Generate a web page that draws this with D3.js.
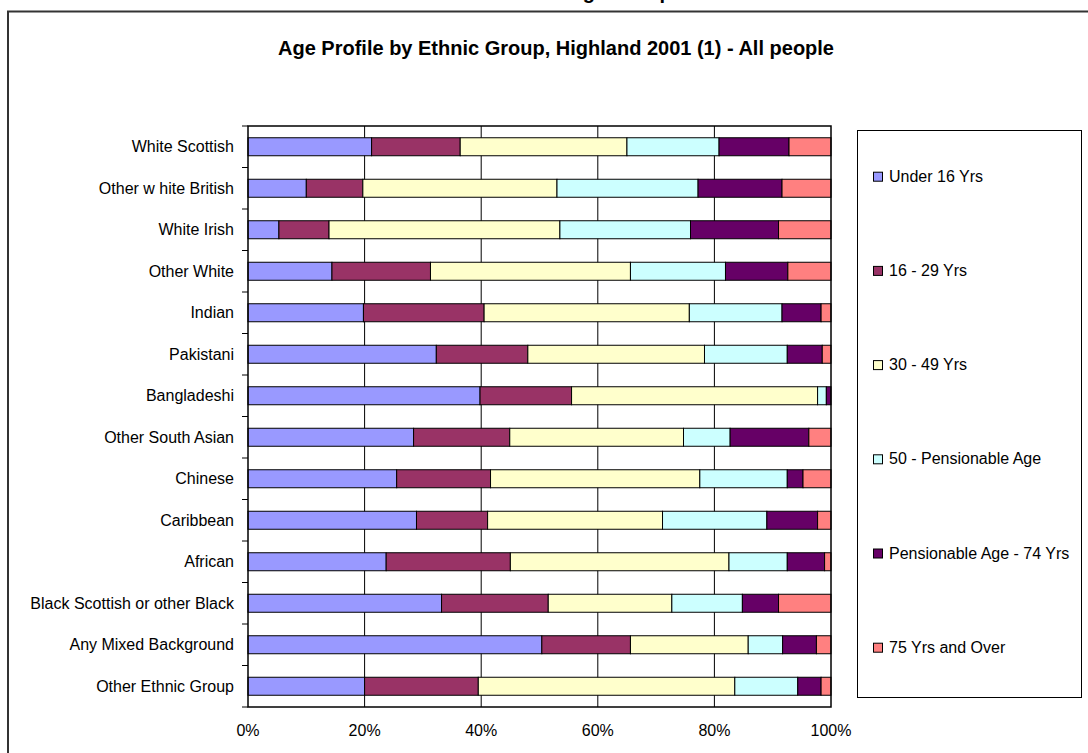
<!DOCTYPE html>
<html>
<head>
<meta charset="utf-8">
<script src="https://cdn.jsdelivr.net/npm/d3@7/dist/d3.min.js"></script>
<style>
  body { margin: 0; background: #fff; }
  svg { display: block; }
</style>
</head>
<body>
<div id="graph"></div>
<script>
'use strict';

// categories, top to bottom
var groups = ['White Scottish', 'Other w hite British', 'White Irish', 'Other White', 'Indian',
  'Pakistani', 'Bangladeshi', 'Other South Asian', 'Chinese', 'Caribbean', 'African',
  'Black Scottish or other Black', 'Any Mixed Background', 'Other Ethnic Group'];

var ageBands = ['Under 16 Yrs', '16 - 29 Yrs', '30 - 49 Yrs', '50 - Pensionable Age',
  'Pensionable Age - 74 Yrs', '75 Yrs and Over'];

// percentage of each group, one array per age band
var under16 = [21.2, 10.0, 5.3, 14.4, 19.8, 32.3, 39.8, 28.4, 25.5, 28.9, 23.7, 33.2, 50.4, 20.0];
var age16to29 = [15.2, 9.7, 8.6, 16.9, 20.7, 15.7, 15.7, 16.5, 16.1, 12.2, 21.3, 18.3, 15.2, 19.5];
var age30to49 = [28.6, 33.3, 39.6, 34.3, 35.2, 30.3, 42.2, 29.8, 35.9, 30.0, 37.5, 21.2, 20.2, 44.0];
var age50toPens = [15.8, 24.2, 22.4, 16.3, 15.9, 14.2, 1.5, 8.0, 15.0, 17.9, 10.0, 12.1, 5.9, 10.8];
var pensTo74 = [12.0, 14.4, 15.1, 10.7, 6.7, 6.0, 0.8, 13.5, 2.7, 8.7, 6.4, 6.2, 5.8, 4.0];
var over75 = [7.2, 8.4, 9.0, 7.4, 1.7, 1.5, 0.0, 3.8, 4.8, 2.3, 1.1, 9.0, 2.5, 1.7];

var xTicks = [0, 20, 40, 60, 80, 100];
var colors = ['#9999ff', '#993366', '#ffffcc', '#ccffff', '#660066', '#ff8080'];

var series = [under16, age16to29, age30to49, age50toPens, pensTo74, over75];

// build rows for d3.stack
var rows = groups.map(function(g, i) {
  var row = { group: g };
  ageBands.forEach(function(b, j) { row[b] = series[j][i]; });
  return row;
});

var canvasWidth = 1088;
var canvasHeight = 753;
var plot = { left: 248, right: 831, top: 126, bottom: 707 };

var svg = d3.select('#graph')
  .append('svg')
  .attr('width', canvasWidth)
  .attr('height', canvasHeight)
  .attr('font-family', '"Liberation Sans", Arial, sans-serif');

// outer frame of the chart object (runs off the page right and bottom)
svg.append('rect')
  .attr('x', 8)
  .attr('y', 11.5)
  .attr('width', 1200)
  .attr('height', 900)
  .attr('fill', 'none')
  .attr('stroke', '#333')
  .attr('stroke-width', 2);

// heading above the frame, cut off by the page top - only descenders show
svg.append('text')
  .attr('x', 620)
  .attr('y', -1)
  .attr('text-anchor', 'middle')
  .attr('font-weight', 'bold')
  .attr('font-size', '20px')
  .text('Age Group');

// chart title
svg.append('text')
  .attr('x', 556)
  .attr('y', 55)
  .attr('text-anchor', 'middle')
  .attr('font-weight', 'bold')
  .attr('font-size', '20px')
  .text('Age Profile by Ethnic Group, Highland 2001 (1) - All people');

var xScale = d3.scaleLinear().domain([0, 100]).range([plot.left, plot.right]);
var yScale = d3.scaleBand().domain(groups).range([plot.top, plot.bottom]);
var barHeight = 18;

// vertical gridlines
svg.append('g')
  .selectAll('line')
  .data(xTicks.slice(1, -1))
  .enter()
  .append('line')
  .attr('x1', function(d) { return xScale(d); })
  .attr('x2', function(d) { return xScale(d); })
  .attr('y1', plot.top)
  .attr('y2', plot.bottom)
  .attr('stroke', '#000')
  .attr('stroke-width', 1);

// stacked bars
var stack = d3.stack().keys(ageBands);
var layers = stack(rows);

svg.append('g')
  .selectAll('g')
  .data(layers)
  .enter()
  .append('g')
  .attr('fill', function(d, i) { return colors[i]; })
  .selectAll('rect')
  .data(function(d) { return d; })
  .enter()
  .append('rect')
  .attr('x', function(d) { return xScale(d[0]); })
  .attr('width', function(d) { return xScale(d[1]) - xScale(d[0]); })
  .attr('y', function(d) { return yScale(d.data.group) + (yScale.bandwidth() - barHeight) / 2; })
  .attr('height', barHeight)
  .attr('stroke', '#000')
  .attr('stroke-width', 1);

// plot area border
svg.append('rect')
  .attr('x', plot.left)
  .attr('y', plot.top)
  .attr('width', plot.right - plot.left)
  .attr('height', plot.bottom - plot.top)
  .attr('fill', 'none')
  .attr('stroke', '#000')
  .attr('stroke-width', 1.5);

// y axis ticks at band edges
var edges = groups.map(function(g) { return yScale(g); }).concat([plot.bottom]);
svg.append('g')
  .selectAll('line')
  .data(edges)
  .enter()
  .append('line')
  .attr('x1', plot.left - 6)
  .attr('x2', plot.left)
  .attr('y1', function(d) { return d; })
  .attr('y2', function(d) { return d; })
  .attr('stroke', '#000')
  .attr('stroke-width', 1);

// category labels
svg.append('g')
  .selectAll('text')
  .data(groups)
  .enter()
  .append('text')
  .attr('x', 234)
  .attr('y', function(d) { return yScale(d) + yScale.bandwidth() / 2 + 5.5; })
  .attr('text-anchor', 'end')
  .attr('font-size', '16px')
  .attr('fill', '#000')
  .text(function(d) { return d; });

// x tick labels
svg.append('g')
  .selectAll('text')
  .data(xTicks)
  .enter()
  .append('text')
  .attr('x', function(d) { return xScale(d); })
  .attr('y', 736)
  .attr('text-anchor', 'middle')
  .attr('font-size', '16px')
  .text(function(d) { return d + '%'; });

// legend
var legend = svg.append('g');
legend.append('rect')
  .attr('x', 857.5)
  .attr('y', 130.5)
  .attr('width', 224)
  .attr('height', 567)
  .attr('fill', '#fff')
  .attr('stroke', '#000')
  .attr('stroke-width', 1);

var legendItem = legend.selectAll('.item')
  .data(ageBands)
  .enter()
  .append('g')
  .attr('class', 'item')
  .attr('transform', function(d, i) { return 'translate(873,' + (181.7 + i * 94.2) + ')'; });

legendItem.append('rect')
  .attr('x', 0.5)
  .attr('y', -9.5)
  .attr('width', 9)
  .attr('height', 9)
  .attr('fill', function(d, i) { return colors[i]; })
  .attr('stroke', '#000')
  .attr('stroke-width', 1);

legendItem.append('text')
  .attr('x', 16)
  .attr('y', 0)
  .attr('font-size', '16px')
  .text(function(d) { return d; });
</script>
</body>
</html>
